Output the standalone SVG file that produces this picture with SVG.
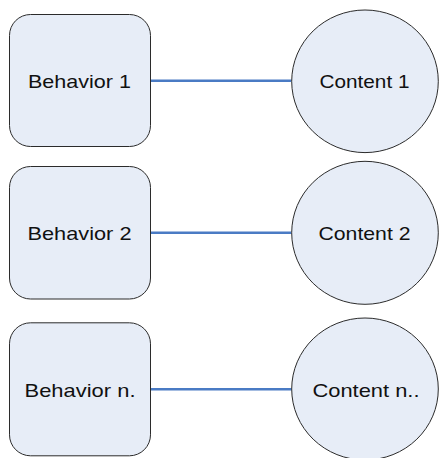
<svg xmlns="http://www.w3.org/2000/svg" width="439" height="458" viewBox="0 0 439 458">
  <style>
    .box { fill: #e7edf7; stroke: #2b2b2b; stroke-width: 1; }
    .lbl { font-family: "Liberation Sans", Arial, sans-serif; font-size: 19px; fill: #111; text-anchor: middle; }
    .link { stroke: #4a7bc4; stroke-width: 2.6; fill: none; }
  </style>
  <rect width="439" height="458" fill="#ffffff"/>

  <g id="connectors">
    <line class="link" x1="150.5" y1="80.8" x2="291.5" y2="80.8"/>
    <line class="link" x1="150.5" y1="232.8" x2="291.5" y2="232.8"/>
    <line class="link" x1="150.5" y1="389.3" x2="291.5" y2="389.3"/>
  </g>

  <g id="behavior-1">
    <rect class="box" x="9.5" y="14.5" width="141" height="132" rx="21" ry="21"/>
    <text class="lbl" x="79.5" y="87.5" textLength="103" lengthAdjust="spacingAndGlyphs">Behavior 1</text>
  </g>
  <g id="content-1">
    <ellipse class="box" cx="365" cy="81.3" rx="73.3" ry="71.3"/>
    <text class="lbl" x="364.5" y="87.5" textLength="90" lengthAdjust="spacingAndGlyphs">Content 1</text>
  </g>

  <g id="behavior-2">
    <rect class="box" x="9.5" y="166.5" width="141" height="132.5" rx="21" ry="21"/>
    <text class="lbl" x="79.5" y="239.5" textLength="104" lengthAdjust="spacingAndGlyphs">Behavior 2</text>
  </g>
  <g id="content-2">
    <ellipse class="box" cx="365" cy="232.8" rx="73.3" ry="71.5"/>
    <text class="lbl" x="364.5" y="239.5" textLength="92" lengthAdjust="spacingAndGlyphs">Content 2</text>
  </g>

  <g id="behavior-n">
    <rect class="box" x="9.5" y="322.8" width="141" height="133" rx="21" ry="21"/>
    <text class="lbl" x="80" y="396.5" textLength="111" lengthAdjust="spacingAndGlyphs">Behavior n.</text>
  </g>
  <g id="content-n">
    <ellipse class="box" cx="365" cy="389" rx="73.3" ry="71"/>
    <text class="lbl" x="366" y="396.5" textLength="107" lengthAdjust="spacingAndGlyphs">Content n..</text>
  </g>
</svg>
